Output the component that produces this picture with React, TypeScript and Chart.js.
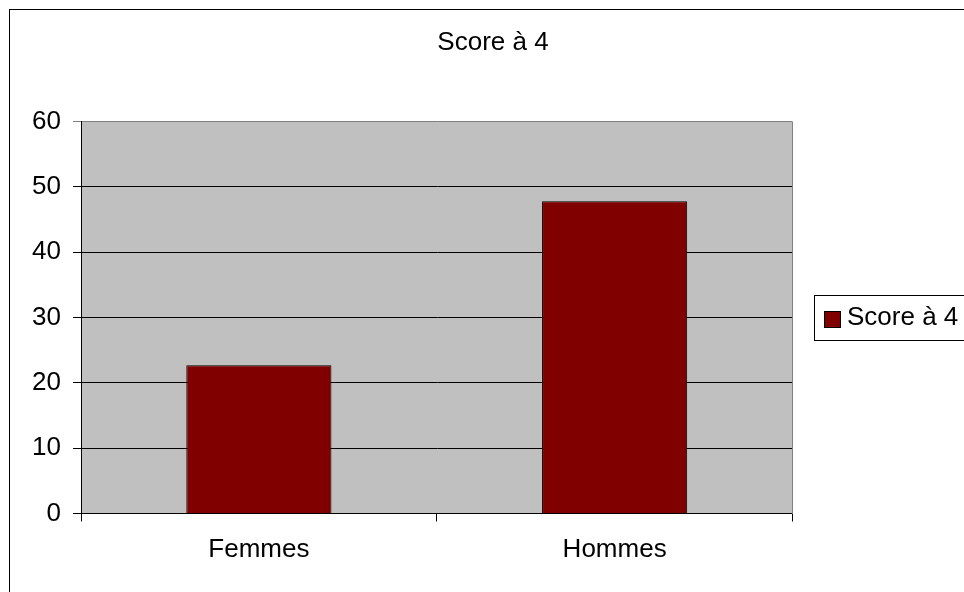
import React, { useEffect, useRef } from "react";
import { Chart, registerables } from "chart.js";

Chart.register(...registerables);

const categories = ["Femmes", "Hommes"];
const seriesLabel = "Score à 4";
const seriesValues = [22.7, 47.8];
const yTicks = [0, 10, 20, 30, 40, 50, 60];
const titleText = "Score à 4";

const FONT = "'Liberation Sans', Arial, sans-serif";

export default function App() {
  const ref = useRef<HTMLCanvasElement | null>(null);

  useEffect(() => {
    const canvas = ref.current;
    if (!canvas) return;

    const decor = {
      id: "decor",
      beforeDraw(chart: any) {
        const ctx = chart.ctx;
        const a = chart.chartArea;
        ctx.save();
        ctx.fillStyle = "#ffffff";
        ctx.fillRect(0, 0, chart.width, chart.height);
        ctx.strokeStyle = "#000000";
        ctx.lineWidth = 1;
        ctx.strokeRect(9.5, 9.5, 2000, 2000);
        ctx.fillStyle = "#C0C0C0";
        ctx.fillRect(a.left, a.top, a.right - a.left, a.bottom - a.top);
        ctx.restore();
      },
      afterDraw(chart: any) {
        const ctx = chart.ctx;
        const a = chart.chartArea;
        ctx.save();
        // plot border right
        ctx.strokeStyle = "#808080";
        ctx.lineWidth = 1;
        ctx.beginPath();
        ctx.moveTo(Math.round(a.right) - 0.5, Math.round(a.top));
        ctx.lineTo(Math.round(a.right) - 0.5, Math.round(a.bottom));
        ctx.stroke();
        // title
        ctx.fillStyle = "#000000";
        ctx.font = `26px ${FONT}`;
        ctx.textBaseline = "alphabetic";
        ctx.textAlign = "center";
        ctx.fillText(titleText, 493, 50);
        // legend
        const ds = chart.data.datasets[0];
        ctx.fillStyle = "#ffffff";
        ctx.fillRect(814.5, 295.5, 300, 45);
        ctx.strokeStyle = "#000000";
        ctx.strokeRect(814.5, 295.5, 300, 45);
        ctx.fillStyle = ds.backgroundColor;
        ctx.fillRect(824.5, 311.5, 16, 16);
        ctx.strokeRect(824.5, 311.5, 16, 16);
        ctx.fillStyle = "#000000";
        ctx.textAlign = "left";
        ctx.fillText(ds.label, 847, 325);
        ctx.restore();
      },
    };

    const chart = new Chart(canvas, {
      type: "bar",
      data: {
        labels: categories,
        datasets: [
          {
            label: seriesLabel,
            data: seriesValues,
            backgroundColor: "#800000",
            borderColor: "#000000",
            borderWidth: 1,
            categoryPercentage: 1,
            barPercentage: 0.408,
          },
        ],
      },
      options: {
        responsive: false,
        animation: false,
        devicePixelRatio: 1,
        layout: { padding: { left: 0, right: 171.5, top: 121.5, bottom: 0 } },
        plugins: {
          legend: { display: false },
          tooltip: { enabled: false },
          title: { display: false },
        },
        scales: {
          x: {
            offset: true,
            grid: {
              offset: true,
              drawOnChartArea: false,
              drawTicks: true,
              tickLength: 8,
              color: "#000000",
            },
            border: { display: true, color: "#000000", width: 1 },
            ticks: {
              color: "#000000",
              font: { family: FONT, size: 26 },
              padding: 13,
              maxRotation: 0,
            },
            afterFit(scale: any) {
              scale.height = 592 - 513.5;
            },
          },
          y: {
            min: yTicks[0],
            max: yTicks[yTicks.length - 1],
            grid: {
              color: (c: any) =>
                c.tick && c.tick.value === yTicks[yTicks.length - 1] ? "#808080" : "#000000",
              tickLength: 8,
              drawTicks: true,
            },
            border: { display: true, color: "#000000", width: 1 },
            ticks: {
              stepSize: 10,
              color: "#000000",
              font: { family: FONT, size: 26 },
              padding: 12,
            },
            afterFit(scale: any) {
              scale.width = 81;
            },
          },
        },
      },
      plugins: [decor],
    });

    return () => chart.destroy();
  }, []);

  return (
    <div style={{ position: "absolute", left: 0, top: 0, width: 964, height: 592 }}>
      <canvas ref={ref} width={964} height={592} style={{ display: "block" }} />
    </div>
  );
}
